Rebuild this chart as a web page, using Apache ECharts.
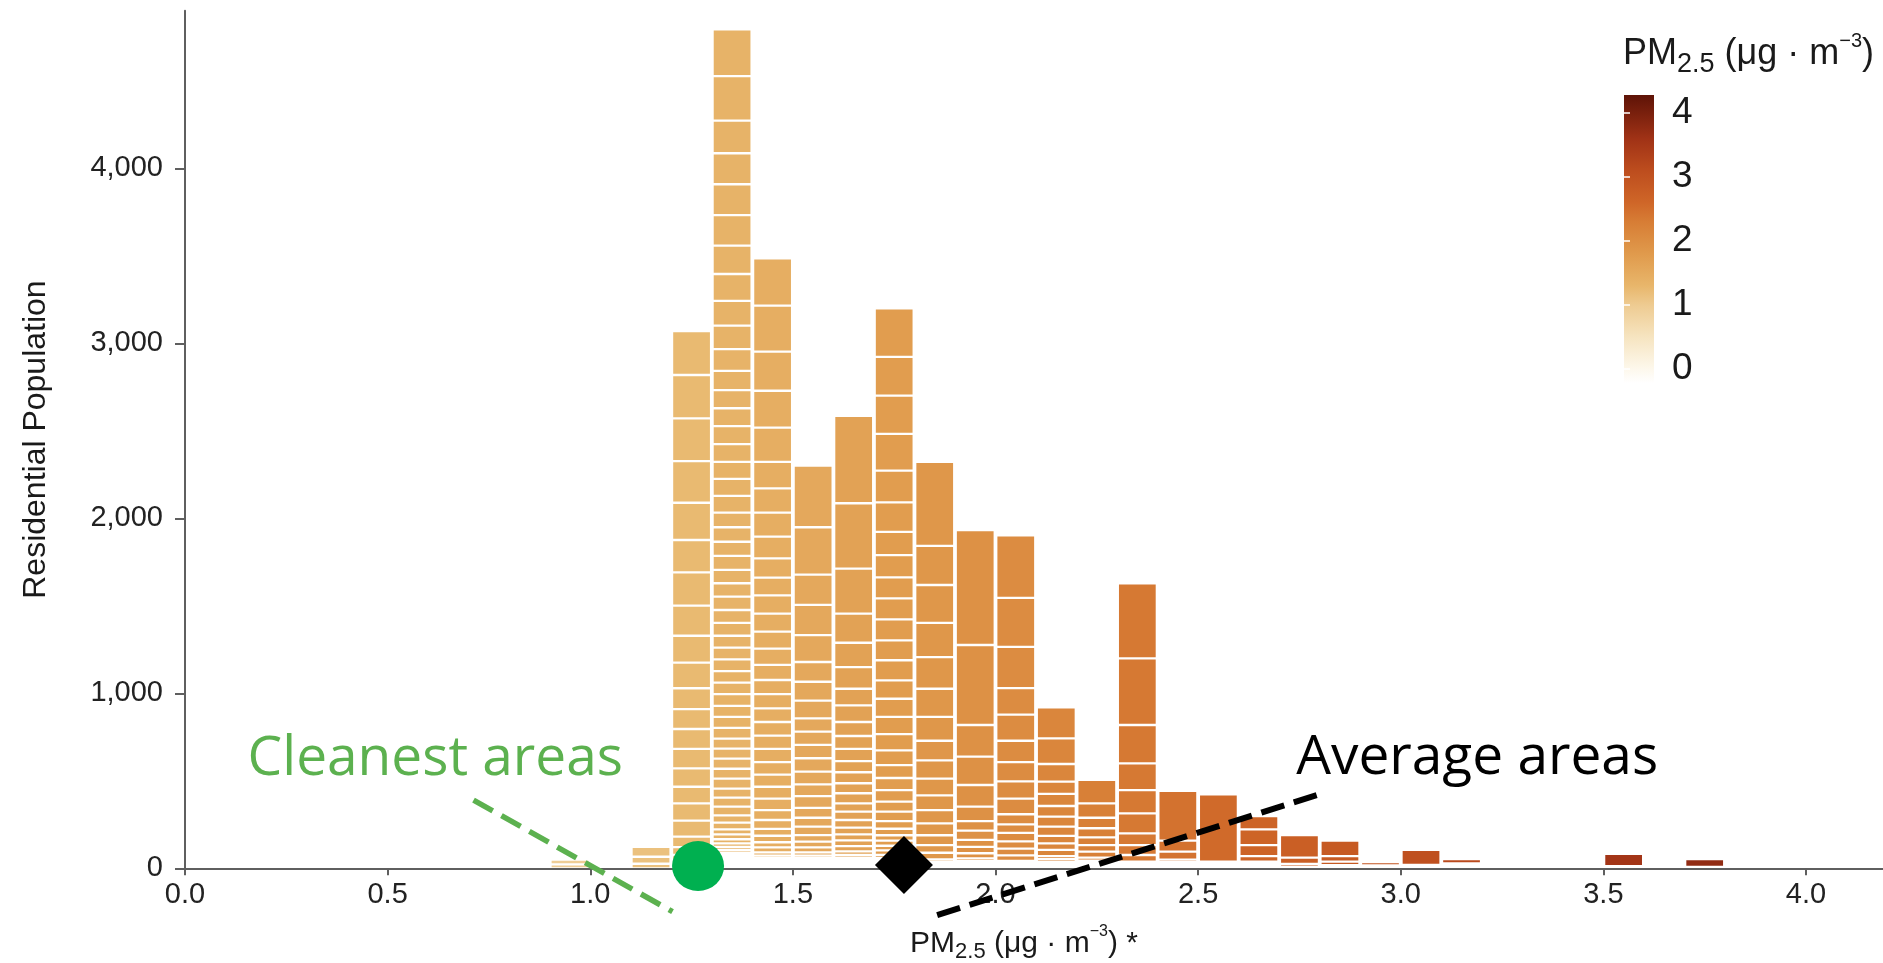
<!DOCTYPE html>
<html><head><meta charset="utf-8">
<script src="https://cdn.jsdelivr.net/npm/echarts@6/dist/echarts.min.js"></script>
<style>html,body{margin:0;padding:0;background:#fff}#c{width:1883px;height:963px}</style>
</head><body><div id="c"></div>
<script>
// ---------- data ----------
const binWidth = 0.1;
const binStarts = [0.9, 1.1, 1.2, 1.3, 1.4, 1.5, 1.6, 1.7, 1.8, 1.9, 2.0, 2.1, 2.2, 2.3, 2.4, 2.5, 2.6, 2.7, 2.8, 2.9, 3.0, 3.1, 3.5, 3.7];
// population of each area stacked in a bin, listed top -> bottom
const blocks_0_9 = [28, 22];
const blocks_1_1 = [57, 40, 26];
const blocks_1_2 = [251, 248, 244, 238, 213, 185, 190, 172, 154, 146, 119, 114, 114, 111, 105, 95, 99, 91, 60, 45, 32, 22, 14, 8];
const blocks_1_3 = [267, 255, 186, 177, 176, 175, 162, 154, 141, 134, 124, 110, 104, 102, 103, 101, 98, 97, 95, 84, 83, 81, 80, 76, 77, 76, 73, 74, 68, 67, 67, 66, 66, 67, 63, 63, 61, 57, 57, 58, 57, 57, 51, 52, 49, 42, 38, 29, 28, 23, 20, 18, 16, 14, 12, 11, 10, 9, 8, 7, 6, 5, 4, 3];
const blocks_1_4 = [271, 263, 223, 211, 195, 152, 138, 138, 124, 110, 101, 105, 103, 97, 93, 86, 81, 81, 78, 78, 76, 75, 72, 69, 68, 65, 57, 51, 39, 37, 29, 29, 18, 15, 13, 11, 10, 8, 7, 5, 4];
const blocks_1_5 = [352, 271, 173, 172, 154, 113, 108, 101, 76, 76, 76, 77, 72, 67, 68, 56, 51, 48, 38, 32, 29, 18, 15, 13, 11, 10, 8, 7, 5, 4];
const blocks_1_6 = [499, 374, 257, 166, 139, 124, 95, 95, 80, 74, 69, 64, 63, 57, 58, 47, 48, 44, 38, 34, 33, 30, 20, 16, 14, 12, 10, 9, 7, 5, 4];
const blocks_1_7 = [277, 222, 219, 210, 181, 168, 133, 127, 120, 120, 120, 114, 115, 105, 104, 98, 93, 84, 74, 69, 66, 57, 54, 44, 37, 31, 29, 26, 27, 18, 14, 12, 10, 8, 6, 5, 3];
const blocks_1_8 = [481, 223, 217, 195, 181, 161, 136, 112, 105, 95, 84, 76, 68, 56, 44, 38, 15, 12, 10, 7, 5, 2];
const blocks_1_9 = [657, 457, 181, 162, 124, 82, 55, 53, 39, 37, 29, 16, 13, 10, 8, 6, 4];
const blocks_2_0 = [358, 280, 235, 152, 149, 122, 110, 99, 89, 58, 48, 49, 42, 38, 31, 14, 11, 8, 6, 4];
const blocks_2_1 = [177, 147, 101, 70, 69, 61, 57, 53, 42, 38, 35, 18, 15, 12, 10, 8, 7];
const blocks_2_2 = [134, 82, 60, 52, 44, 38, 34, 17, 14, 11, 9, 6, 4];
const blocks_2_3 = [429, 381, 219, 153, 133, 114, 67, 57, 38, 14, 10, 8, 6];
const blocks_2_4 = [284, 63, 45, 15, 12, 10, 8, 5];
const blocks_2_5 = [385, 14, 10, 8, 6];
const blocks_2_6 = [76, 90, 63, 32, 14, 10, 8, 6];
const blocks_2_7 = [129, 36, 15, 10];
const blocks_2_8 = [88, 32, 20, 12, 6];
const blocks_2_9 = [19, 10, 7];
const blocks_3_0 = [86, 11, 8];
const blocks_3_1 = [25, 10, 8, 6, 4];
const blocks_3_5 = [69, 13];
const blocks_3_7 = [45, 8];
const binBlocks = [blocks_0_9, blocks_1_1, blocks_1_2, blocks_1_3, blocks_1_4, blocks_1_5, blocks_1_6, blocks_1_7,
  blocks_1_8, blocks_1_9, blocks_2_0, blocks_2_1, blocks_2_2, blocks_2_3, blocks_2_4, blocks_2_5, blocks_2_6,
  blocks_2_7, blocks_2_8, blocks_2_9, blocks_3_0, blocks_3_1, blocks_3_5, blocks_3_7];

const xTicks = [0.0, 0.5, 1.0, 1.5, 2.0, 2.5, 3.0, 3.5, 4.0];
const yTicks = [0, 1000, 2000, 3000, 4000];
const legendTicks = [0, 1, 2, 3, 4];
const legendRange = [-0.22, 4.28];

// annotations (data coordinates)
const cleanestPoint = [1.266, 13];
const averagePoint = [1.774, 19];
const cleanestLine = [[0.712, 390], [1.203, -248]];
const averageLine = [[1.856, -267], [2.794, 419]];
const annotationLabels = [
  [0.1545, 623, 'Cleanest areas', '#5cb14f'],
  [2.742, 627, 'Average areas', '#000000']
];

// colour scale (PM2.5 -> colour)
const paletteStops = [-0.22, 0, 0.5, 1.0, 1.3, 1.8, 2.3, 2.6, 3.1, 3.6, 4.28];
const paletteColors = ['#ffffff', '#fdf8ec', '#f6e4c0', '#eecb91', '#e8b66b', '#e09a4c', '#d77d35', '#cf6628', '#bd4d1e', '#a03216', '#5e1307'];

// ---------- helpers ----------
function hex(c) { return [parseInt(c.slice(1, 3), 16), parseInt(c.slice(3, 5), 16), parseInt(c.slice(5, 7), 16)]; }
function colorAt(v) {
  if (v <= paletteStops[0]) return paletteColors[0];
  for (let i = 1; i < paletteStops.length; i++) {
    if (v <= paletteStops[i]) {
      const t = (v - paletteStops[i - 1]) / (paletteStops[i] - paletteStops[i - 1]);
      const a = hex(paletteColors[i - 1]), b = hex(paletteColors[i]);
      return 'rgb(' + a.map((x, k) => Math.round(x + (b[k] - x) * t)).join(',') + ')';
    }
  }
  return paletteColors[paletteColors.length - 1];
}
const barData = [];
binStarts.forEach((b, i) => {
  const blocks = binBlocks[i];
  let top = blocks.reduce((s, v) => s + v, 0);
  blocks.forEach(v => { barData.push([b, b + binWidth, top - v, top, b + binWidth / 2]); top -= v; });
});

const AX = 'Liberation Sans, Arial, sans-serif';
const ANN = 'Open Sans';
const axisGrey = '#5f5f5f';

function titleRich(fs, fsSub, fsSup, H, hSub, hSup) {
  return {
    m: { fontFamily: AX, fontSize: fs, fontWeight: 'normal', lineHeight: H, color: '#1a1a1a', verticalAlign: 'middle' },
    sub: { fontFamily: AX, fontSize: fsSub, fontWeight: 'normal', lineHeight: hSub, color: '#1a1a1a', verticalAlign: 'bottom' },
    sup: { fontFamily: AX, fontSize: fsSup, fontWeight: 'normal', lineHeight: hSup, color: '#1a1a1a', verticalAlign: 'top' }
  };
}

const chart = echarts.init(document.getElementById('c'));
chart.setOption({
  animation: false,
  backgroundColor: '#ffffff',
  title: {
    text: '{m|PM}{sub|2.5}{m| (μg · m}{sup|−3}{m|)}',
    left: 1623, top: 31, padding: 0,
    textStyle: { fontWeight: 'normal', rich: titleRich(36, 27, 20, 47, 27, 25) }
  },
  grid: [
    { left: 185, right: 0, top: 10.8, bottom: 94.7, containLabel: false, outerBoundsMode: 'none' },
    { left: 1624, top: 95, width: 30, height: 288, containLabel: false, outerBoundsMode: 'none' }
  ],
  xAxis: [{
    type: 'value', min: 0, max: 4.19, gridIndex: 0,
    axisLine: { show: true, lineStyle: { color: axisGrey, width: 2 } },
    axisTick: { show: true, length: 7, lineStyle: { color: axisGrey, width: 2 }, customValues: xTicks },
    axisLabel: { customValues: xTicks, formatter: v => v.toFixed(1), fontFamily: AX, fontSize: 29, color: '#222222', margin: 12 },
    splitLine: { show: false },
    name: '{m|PM}{sub|2.5}{m| (μg · m}{sup|−3}{m|) *}',
    nameLocation: 'middle', nameGap: 55,
    nameTextStyle: { padding: [0, 20, 0, 0], rich: titleRich(30, 22, 16, 40, 22, 20) }
  }, {
    type: 'value', min: 0, max: 1, gridIndex: 1, show: false
  }],
  yAxis: [{
    type: 'value', min: 0, max: 4900, gridIndex: 0,
    axisLine: { show: true, lineStyle: { color: axisGrey, width: 2 } },
    axisTick: { show: true, length: 10, lineStyle: { color: axisGrey, width: 2 }, customValues: yTicks },
    axisLabel: { customValues: yTicks, formatter: v => String(v).replace(/\B(?=(\d{3})+(?!\d))/g, ','), fontFamily: AX, fontSize: 29, color: '#222222', margin: 22 },
    splitLine: { show: false },
    name: 'Residential Population', nameLocation: 'middle', nameGap: 133,
    nameTextStyle: { fontFamily: AX, fontSize: 32, color: '#1a1a1a' }
  }, {
    type: 'value', min: legendRange[0], max: legendRange[1], gridIndex: 1, position: 'right', z: 10,
    axisLine: { show: false },
    axisTick: { show: true, inside: true, length: 6, lineStyle: { color: '#ffffff', width: 1.5 }, customValues: legendTicks },
    axisLabel: { customValues: legendTicks, fontFamily: AX, fontSize: 37, color: '#1a1a1a', margin: 18 },
    splitLine: { show: false }
  }, {
    type: 'value', min: legendRange[0], max: legendRange[1], gridIndex: 1, position: 'left', z: 10,
    axisLine: { show: false },
    axisTick: { show: true, inside: true, length: 6, lineStyle: { color: '#ffffff', width: 1.5 }, customValues: legendTicks },
    axisLabel: { show: false },
    splitLine: { show: false }
  }],
  series: [
    {
      type: 'custom', xAxisIndex: 0, yAxisIndex: 0, data: barData, encode: { x: [0, 1], y: [2, 3] },
      renderItem: function (params, api) {
        const x0 = api.value(0), x1 = api.value(1), lo = api.value(2), hi = api.value(3), c = api.value(4);
        const a = api.coord([x0, hi]), b = api.coord([x1, lo]);
        const padX = 1.9, padY = 1.15;
        const h = b[1] - a[1] - 2 * padY;
        if (h <= 0.25) return null;
        return { type: 'rect', shape: { x: a[0] + padX, y: a[1] + padY, width: b[0] - a[0] - 2 * padX, height: h }, style: { fill: colorAt(c) } };
      },
      z: 2
    },
    {
      type: 'custom', xAxisIndex: 1, yAxisIndex: 1, data: [[0, 1, legendRange[0], legendRange[1]]],
      encode: { x: [0, 1], y: [2, 3] },
      renderItem: function (params, api) {
        const a = api.coord([api.value(0), api.value(3)]), b = api.coord([api.value(1), api.value(2)]);
        const span = legendRange[1] - legendRange[0];
        const stops = paletteStops.map((v, i) => ({ offset: (legendRange[1] - v) / span, color: paletteColors[i] })).reverse();
        return { type: 'rect', shape: { x: a[0], y: a[1], width: b[0] - a[0], height: b[1] - a[1] },
          style: { fill: new echarts.graphic.LinearGradient(0, 0, 0, 1, stops) } };
      },
      z: 2
    },
    {
      type: 'line', data: cleanestLine, clip: false, symbol: 'none', z: 5,
      lineStyle: { color: '#5cb14f', width: 5.5, type: [22, 10] }
    },
    {
      type: 'line', data: averageLine, clip: false, symbol: 'none', z: 5,
      lineStyle: { color: '#000000', width: 6, type: [24, 10] }
    },
    {
      type: 'scatter', data: [cleanestPoint], clip: false, symbol: 'circle', symbolSize: [52, 50], z: 6,
      itemStyle: { color: '#00b050', opacity: 1 }
    },
    {
      type: 'scatter', data: [averagePoint], clip: false, symbol: 'diamond', symbolSize: [58, 58], z: 6,
      itemStyle: { color: '#000000', opacity: 1 }
    },
    {
      type: 'custom', xAxisIndex: 0, yAxisIndex: 0, clip: false, z: 7,
      data: annotationLabels.map(d => [d[0], d[1]]),
      encode: { x: 0, y: 1 },
      renderItem: function (params, api) {
        const p = api.coord([api.value(0), api.value(1)]);
        const item = annotationLabels[params.dataIndex];
        return {
          type: 'text', x: p[0], y: p[1],
          style: { text: item[2], fill: item[3], fontFamily: ANN, fontSize: 55, align: 'left', verticalAlign: 'middle' }
        };
      }
    }
  ]
});
</script></body></html>
